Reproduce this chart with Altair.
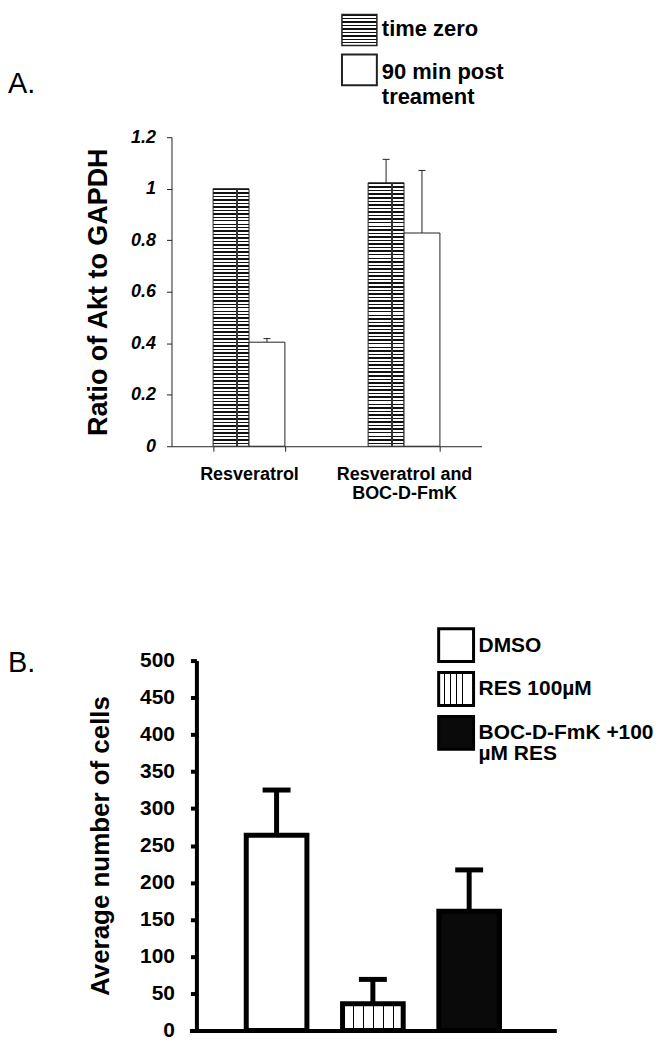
import altair as alt
import pandas as pd

FONT = "Liberation Sans"

# ---------------- Panel A data ----------------
a_categories = ["Resveratrol", "Resveratrol and BOC-D-FmK"]
a_series = ["time zero", "90 min post treament"]
a_legend_labels = ["time zero", "90 min post\ntreament"]
a_time_zero = [1.0, 1.023]
a_time_zero_err = [0.0, 0.091]
a_post = [0.404, 0.828]
a_post_err = [0.014, 0.243]
a_yticks = [0, 0.2, 0.4, 0.6, 0.8, 1.0, 1.2]

# ---------------- Panel B data ----------------
b_categories = ["DMSO", "RES 100µM", "BOC-D-FmK +100 µM RES"]
b_legend_labels = ["DMSO", "RES 100µM", "BOC-D-FmK +100\nµM RES"]
b_values = [264, 36, 161]
b_err = [61, 33, 56]
b_yticks = list(range(0, 501, 50))


def stripes(n, duty, dark, light, vertical_lines=False):
    stops = []
    for i in range(n):
        a = round(i / n, 5)
        b = round((i + duty) / n, 5)
        c = round((i + 1) / n, 5)
        stops += [
            {"offset": a, "color": dark},
            {"offset": b, "color": dark},
            {"offset": b, "color": light},
            {"offset": c, "color": light},
        ]
    if vertical_lines:
        return {"gradient": "linear", "x1": 0, "y1": 0, "x2": 1, "y2": 0, "stops": stops}
    return {"gradient": "linear", "x1": 0, "y1": 0, "x2": 0, "y2": 1, "stops": stops}


TRANSP = "rgba(0,0,0,0)"
vline_overlay = {
    "gradient": "linear", "x1": 0, "y1": 0, "x2": 1, "y2": 0,
    "stops": [
        {"offset": 0, "color": TRANSP},
        {"offset": 0.64, "color": TRANSP},
        {"offset": 0.64, "color": "#333"},
        {"offset": 0.68, "color": "#333"},
        {"offset": 0.68, "color": TRANSP},
        {"offset": 1, "color": TRANSP},
    ],
}

hatch_bar = stripes(74, 0.42, "#111", "#ffffff")
hatch_leg = stripes(9, 0.42, "#111", "#ffffff")
dash_fill = stripes(6, 0.12, "#000", "#ffffff", vertical_lines=True)

# ================= Panel A =================
df_a = pd.DataFrame({
    "cat": a_categories * 2,
    "series": [a_series[0]] * 2 + [a_series[1]] * 2,
    "value": a_time_zero + a_post,
    "err": a_time_zero_err + a_post_err,
})
df_a["upper"] = df_a["value"] + df_a["err"]

AXC = "#222"
xa = alt.X(
    "cat:N",
    sort=a_categories,
    scale=alt.Scale(domain=a_categories, paddingInner=0.537, paddingOuter=0.2685),
    axis=alt.Axis(
        title=None, labelAngle=0, labelFont=FONT, labelFontWeight="bold",
        labelFontSize=18, labelColor="black", labelPadding=14, labelLineHeight=19,
        labelExpr="datum.label == 'Resveratrol and BOC-D-FmK' ? ['Resveratrol and', 'BOC-D-FmK'] : datum.label",
        tickBand="extent", tickSize=5, domainColor=AXC, tickColor=AXC,
    ),
)
xoff = alt.XOffset("series:N", scale=alt.Scale(domain=a_series, paddingInner=0, paddingOuter=0))
ya_scale = alt.Scale(domain=[0, 1.2], nice=False)
ya_axis = alt.Axis(
    values=a_yticks, format="~g", title="Ratio of Akt to GAPDH",
    titleFont=FONT, titleFontSize=27, titleFontWeight="bold", titleColor="black",
    titlePadding=18, labelFont=FONT, labelFontSize=18, labelFontWeight="bold",
    labelFontStyle="italic", labelColor="black", labelPadding=11, tickSize=5,
    domainColor=AXC, tickColor=AXC, labelOverlap=False,
)
ya = alt.Y("value:Q", scale=ya_scale, axis=ya_axis)

base_a = alt.Chart(df_a)
bars_tz = base_a.transform_filter(alt.datum.series == a_series[0]).mark_bar(
    fill=hatch_bar, stroke=AXC, strokeWidth=1
).encode(x=xa, xOffset=xoff, y=ya)
bars_tz_line = base_a.transform_filter(alt.datum.series == a_series[0]).mark_bar(
    fill=vline_overlay, strokeOpacity=0
).encode(x=xa, xOffset=xoff, y=ya)
bars_post = base_a.transform_filter(alt.datum.series == a_series[1]).mark_bar(
    fill="white", stroke=AXC, strokeWidth=1
).encode(x=xa, xOffset=xoff, y=ya)
err_a = base_a.transform_filter(alt.datum.err > 0).mark_rule(color=AXC, strokeWidth=1).encode(
    x=xa, xOffset=xoff, y=ya, y2="upper:Q"
)
cap_a = base_a.transform_filter(alt.datum.err > 0).mark_tick(
    color=AXC, size=7, thickness=1, opacity=1
).encode(
    x=xa, xOffset=xoff, y=alt.Y("upper:Q", scale=ya_scale, axis=ya_axis)
)

one = pd.DataFrame({"k": [0]})
leg_a1 = alt.Chart(one).mark_rect(fill=hatch_leg, stroke="#222", strokeWidth=1.5).encode(
    x=alt.value(171), x2=alt.value(206), y=alt.value(-123), y2=alt.value(-92)
)
leg_a2 = alt.Chart(one).mark_rect(fill="white", stroke="#222", strokeWidth=2).encode(
    x=alt.value(171), x2=alt.value(206), y=alt.value(-83), y2=alt.value(-52)
)
leg_a1_t = alt.Chart(pd.DataFrame({"t": [a_legend_labels[0]]})).mark_text(
    align="left", baseline="alphabetic", font=FONT, fontSize=22, fontWeight="bold", color="black"
).encode(x=alt.value(211), y=alt.value(-102), text="t:N")
leg_a2_t = alt.Chart(pd.DataFrame({"t": [a_legend_labels[1]]})).mark_text(
    align="left", baseline="alphabetic", font=FONT, fontSize=22, fontWeight="bold", color="black",
    lineBreak="\n", lineHeight=25,
).encode(x=alt.value(211), y=alt.value(-58), text="t:N")
lab_a = alt.Chart(pd.DataFrame({"t": ["A."]})).mark_text(
    align="left", baseline="alphabetic", font=FONT, fontSize=29, color="black"
).encode(x=alt.value(-164), y=alt.value(-44), text="t:N")

chart_a = alt.layer(
    bars_tz, bars_tz_line, bars_post, err_a, cap_a,
    leg_a1, leg_a2, leg_a1_t, leg_a2_t, lab_a,
).properties(width=311, height=310)

# ================= Panel B =================
# plot origin shared with panel A (x=172 on the page); axis sits 25px inside
df_b = pd.DataFrame({"cat": b_categories, "value": b_values, "err": b_err})
df_b["upper"] = df_b["value"] + df_b["err"]

xb = alt.X(
    "cat:N", sort=b_categories,
    scale=alt.Scale(domain=b_categories, range=[18, 386], paddingInner=0.37, paddingOuter=0.59),
    axis=alt.Axis(title=None, labels=False, ticks=False, domainColor="black", domainWidth=4),
)
yb_scale = alt.Scale(domain=[0, 500], nice=False)
yb_axis = alt.Axis(
    values=b_yticks, title="Average number of cells", titleFont=FONT, titleFontSize=26,
    titleFontWeight="bold", titleColor="black", titlePadding=26,
    labelFont=FONT, labelFontSize=21, labelFontWeight="bold", labelColor="black",
    labelPadding=16, tickSize=6, tickWidth=4, tickColor="black",
    domainColor="black", domainWidth=4, offset=-25, labelOverlap=False,
)
yb = alt.Y("value:Q", scale=yb_scale, axis=yb_axis)
base_b = alt.Chart(df_b)
fills_b = ["white", dash_fill, "#0a0a0a"]
bar_layers = []
for cat, f in zip(b_categories, fills_b):
    bar_layers.append(
        base_b.transform_filter(alt.datum.cat == cat).mark_bar(
            fill=f, stroke="black", strokeWidth=5
        ).encode(x=xb, y=yb)
    )
err_b = base_b.mark_rule(color="black", strokeWidth=5).encode(x=xb, y=yb, y2="upper:Q")
cap_b = base_b.mark_tick(color="black", size=28, thickness=5, opacity=1).encode(
    x=xb, y=alt.Y("upper:Q", scale=yb_scale, axis=yb_axis)
)

leg_b = []
leg_y = [(-32, 1), (12, 45), (56, 89)]
leg_text_y = [-8.5, 35, 79]
for (y1, y2), f, lab, ty in zip(leg_y, fills_b, b_legend_labels, leg_text_y):
    leg_b.append(
        alt.Chart(one).mark_rect(fill=f, stroke="black", strokeWidth=3).encode(
            x=alt.value(268), x2=alt.value(303), y=alt.value(y1), y2=alt.value(y2)
        )
    )
    leg_b.append(
        alt.Chart(pd.DataFrame({"t": [lab]})).mark_text(
            align="left", baseline="alphabetic", font=FONT, fontSize=21, fontWeight="bold",
            color="black", lineBreak="\n", lineHeight=21,
        ).encode(x=alt.value(308), y=alt.value(ty), text="t:N")
    )
lab_b = alt.Chart(pd.DataFrame({"t": ["B."]})).mark_text(
    align="left", baseline="alphabetic", font=FONT, fontSize=29, color="black"
).encode(x=alt.value(-164), y=alt.value(11), text="t:N")

chart_b = alt.layer(*bar_layers, err_b, cap_b, *leg_b, lab_b).properties(width=386, height=371)

chart = alt.vconcat(chart_a, chart_b, spacing=125).properties(
    padding={"left": 0, "top": 4, "right": 0, "bottom": 0}
).configure_view(stroke=None).configure_axis(grid=False)

chart.save("out.html", embed_options={"renderer": "svg", "actions": False})
